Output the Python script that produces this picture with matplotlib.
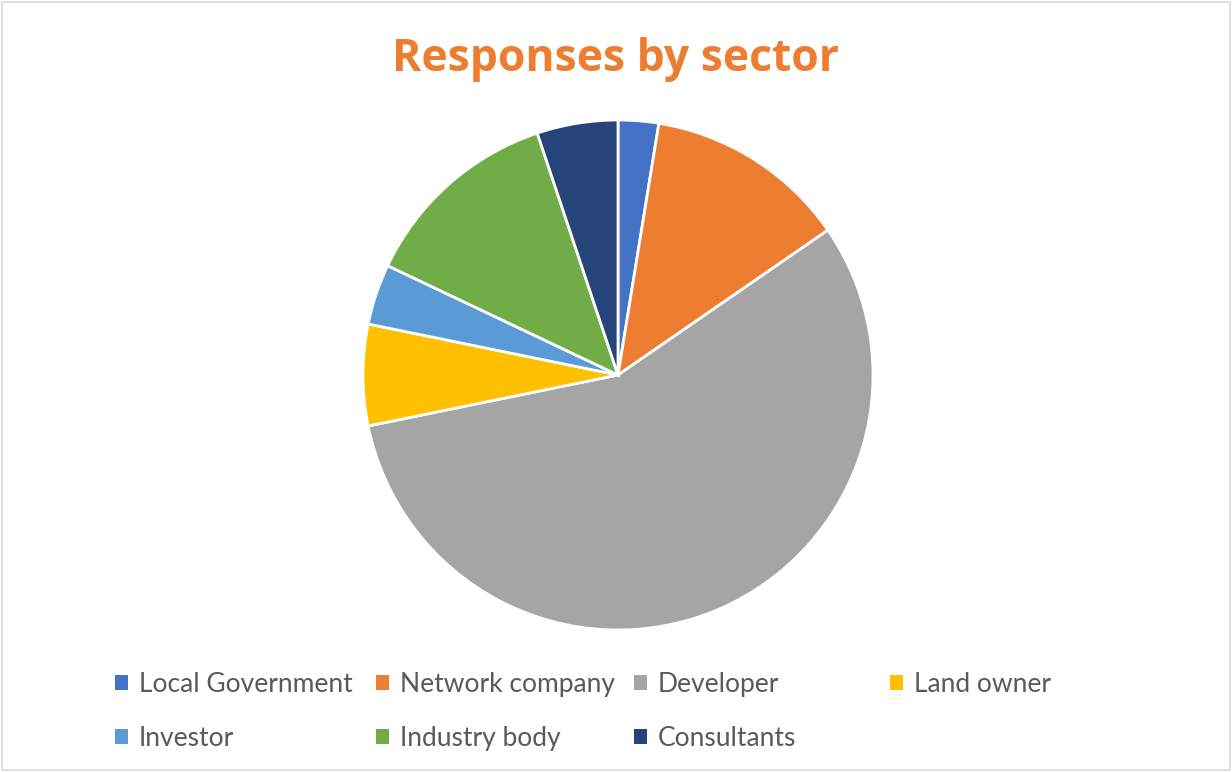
import matplotlib.pyplot as plt
from matplotlib.patches import Patch

# data (response counts)
sectors = ['Local Government', 'Network company', 'Developer', 'Land owner',
           'Investor', 'Industry body', 'Consultants']
responses = [2, 10, 44, 5, 3, 10, 4]
colors = ['#4472C4', '#ED7D31', '#A5A5A5', '#FFC000', '#5B9BD5', '#70AD47', '#264478']

W, H = 1232, 772
fig = plt.figure(figsize=(W / 100, H / 100), dpi=100)
fig.patch.set_facecolor('white')

# chart border
fig.add_artist(plt.Rectangle((0.002, 0.002), 0.996, 0.996, transform=fig.transFigure,
                             fill=False, edgecolor='#D9D9D9', linewidth=1.2))

cx, cy, r = 618, 375, 255
ax = fig.add_axes([(cx - r) / W, 1 - (cy + r) / H, 2 * r / W, 2 * r / H])
ax.pie(responses, colors=colors, startangle=90, counterclock=False,
       wedgeprops=dict(edgecolor='white', linewidth=2), radius=1)
ax.set_xlim(-1, 1)
ax.set_ylim(-1, 1)
ax.set_aspect('equal')
ax.axis('off')

fig.text(616 / W, 1 - 60 / H, 'Responses by sector', ha='center', va='center',
         fontsize=32, fontweight='bold', color='#ED7D31', family='Open Sans')

# legend laid out as in Excel: 4 columns, filled row by row
col_x = [115, 376, 634, 890]
rows = [[0, 4], [1, 5], [2, 6], [3]]
for x, idx in zip(col_x, rows):
    handles = [Patch(facecolor=colors[i], edgecolor='none') for i in idx]
    labels = [sectors[i] for i in idx]
    fig.legend(handles, labels, loc='upper left', bbox_to_anchor=(x / W, 1 - 672 / H),
               frameon=False, handlelength=0.5, handleheight=0.5, handletextpad=0.4,
               labelspacing=1.1, borderpad=0, borderaxespad=0,
               prop={'family': 'Lato', 'size': 19}, labelcolor='#595959')

fig.savefig('out.png', dpi=100)
